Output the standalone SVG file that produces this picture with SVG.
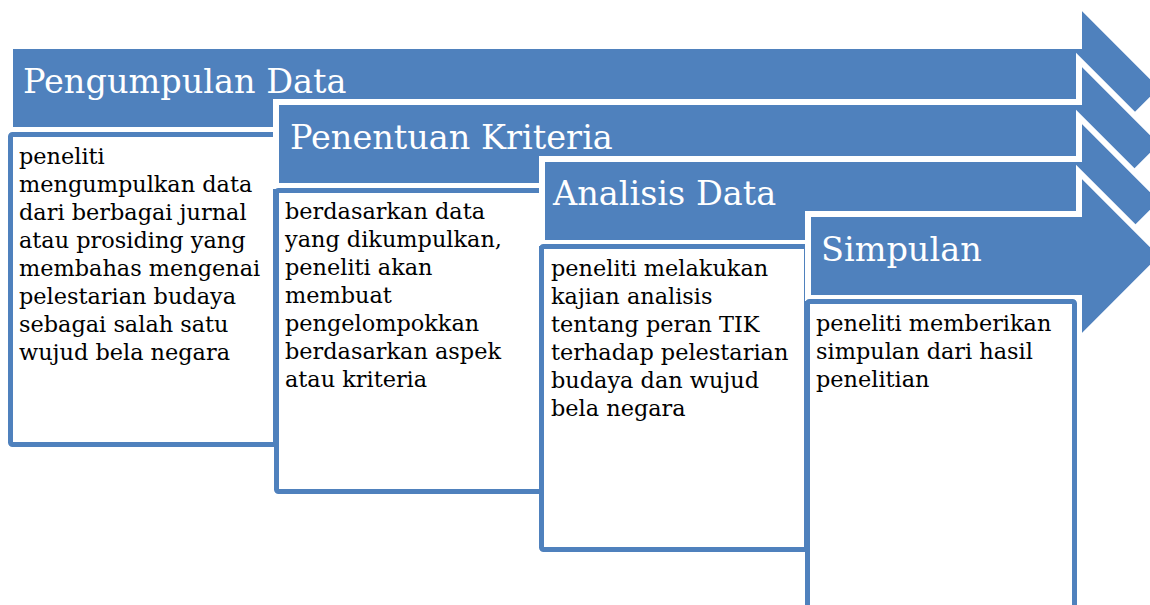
<svg xmlns="http://www.w3.org/2000/svg" width="1150" height="605" viewBox="0 0 1150 605">
<style>
.arrow{fill:#4F81BD;stroke:#FFFFFF;stroke-width:6}
.box{fill:#FFFFFF;stroke:#4F81BD;stroke-width:5}
.title{font-family:"DejaVu Serif","Liberation Serif",serif;font-size:33.5px;fill:#FFFFFF}
.body{font-family:"DejaVu Serif","Liberation Serif",serif;font-size:22.4px;fill:#000000}
</style>
<rect width="1150" height="605" fill="#FFFFFF"/>
<g id="step1">
<path class="arrow" d="M10,46 H1079 V4 L1163,88 L1079,172 V130 H10 Z"/>
<text class="title" x="23" y="93">Pengumpulan Data</text>
<rect class="box" x="10.5" y="134.5" width="265" height="310" rx="2"/>
<text class="body" x="19" y="164"><tspan x="19">peneliti</tspan><tspan x="19" dy="28">mengumpulkan data</tspan><tspan x="19" dy="28">dari berbagai jurnal</tspan><tspan x="19" dy="28">atau prosiding yang</tspan><tspan x="19" dy="28">membahas mengenai</tspan><tspan x="19" dy="28">pelestarian budaya</tspan><tspan x="19" dy="28">sebagai salah satu</tspan><tspan x="19" dy="28">wujud bela negara</tspan></text>
</g>
<g id="step2">
<path class="arrow" d="M276,102 H1079 V60 L1163,144 L1079,228 V186 H276 Z"/>
<text class="title" x="290" y="149">Penentuan Kriteria</text>
<rect class="box" x="276.5" y="190.5" width="265" height="301" rx="2"/>
<text class="body" x="285" y="219"><tspan x="285">berdasarkan data</tspan><tspan x="285" dy="28">yang dikumpulkan,</tspan><tspan x="285" dy="28">peneliti akan</tspan><tspan x="285" dy="28">membuat</tspan><tspan x="285" dy="28">pengelompokkan</tspan><tspan x="285" dy="28">berdasarkan aspek</tspan><tspan x="285" dy="28">atau kriteria</tspan></text>
</g>
<g id="step3">
<path class="arrow" d="M542,159 H1079 V117 L1163,201 L1079,285 V243 H542 Z"/>
<text class="title" x="553" y="205">Analisis Data</text>
<rect class="box" x="541.5" y="246.5" width="265" height="303" rx="2"/>
<text class="body" x="551" y="276"><tspan x="551">peneliti melakukan</tspan><tspan x="551" dy="28">kajian analisis</tspan><tspan x="551" dy="28">tentang peran TIK</tspan><tspan x="551" dy="28">terhadap pelestarian</tspan><tspan x="551" dy="28">budaya dan wujud</tspan><tspan x="551" dy="28">bela negara</tspan></text>
</g>
<g id="step4">
<path class="arrow" d="M808,214 H1079 V172 L1163,256 L1079,340 V298 H808 Z"/>
<text class="title" x="821" y="261">Simpulan</text>
<rect class="box" x="807.5" y="301.5" width="267" height="320" rx="2"/>
<text class="body" x="816" y="331"><tspan x="816">peneliti memberikan</tspan><tspan x="816" dy="28">simpulan dari hasil</tspan><tspan x="816" dy="28">penelitian</tspan></text>
</g>
<g id="connectors"></g>
</svg>
